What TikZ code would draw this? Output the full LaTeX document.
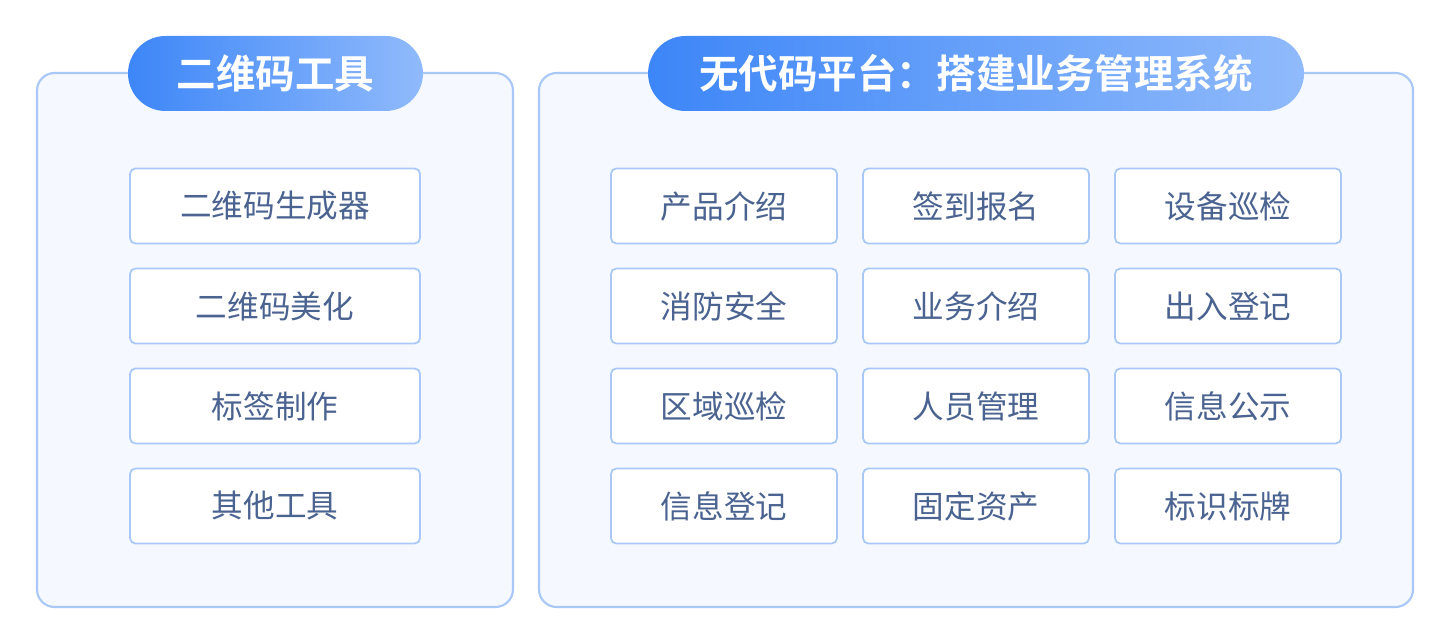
\documentclass[tikz,border=0pt]{standalone}
\usepackage{fontspec}
\setmainfont{Noto Sans CJK SC}[BoldFont={Noto Sans CJK SC Bold}]
\definecolor{panelfill}{HTML}{F5F9FF}
\definecolor{panelline}{HTML}{A9C8F8}
\definecolor{pillleft}{HTML}{3D86F8}
\definecolor{pillright}{HTML}{90BAFB}
\definecolor{itemtext}{HTML}{4B6390}

\begin{document}
\begin{tikzpicture}[x=0.02cm, y=-0.02cm,
  panel/.style = {draw=panelline, line width=1.2pt, fill=panelfill, rounded corners=10pt},
  pill/.style = {shape=rectangle, rounded corners=0.75cm, minimum height=1.5cm,
    left color=pillleft, right color=pillright, text=white, font=\bfseries\fontsize{22.5}{26}\selectfont},
  item/.style = {shape=rectangle, rounded corners=3pt, draw=panelline, line width=1pt,
    fill=white, minimum height=1.5cm, text=itemtext, font=\fontsize{18}{21}\selectfont}]
  \useasboundingbox (0,0) rectangle (1450,644);
  % panels
  \draw[panel] (37,73) rectangle (513,607);
  \draw[panel] (539,73) rectangle (1413,607);
  \node[pill, minimum width=5.9cm] (tools) at (275.5,73.5) {二维码工具};
  \node[pill, minimum width=13.12cm] (nocode) at (976,73.5) {无代码平台：搭建业务管理系统};
  % left column
  \node[item, minimum width=5.8cm] (gen) at (275,206) {二维码生成器};
  \node[item, minimum width=5.8cm] (beauty) at (275,306) {二维码美化};
  \node[item, minimum width=5.8cm] (label) at (275,406) {标签制作};
  \node[item, minimum width=5.8cm] (other) at (275,506) {其他工具};
  % right grid
  \foreach \txt [count=\i from 0] in {产品介绍,签到报名,设备巡检,消防安全,业务介绍,出入登记,
      区域巡检,人员管理,信息公示,信息登记,固定资产,标识标牌} {
    \pgfmathtruncatemacro{\col}{mod(\i,3)}
    \pgfmathtruncatemacro{\row}{div(\i,3)}
    \node[item, minimum width=4.52cm] (app\i) at (724+252*\col, 206+100*\row) {\txt};
  }
\end{tikzpicture}
\end{document}
